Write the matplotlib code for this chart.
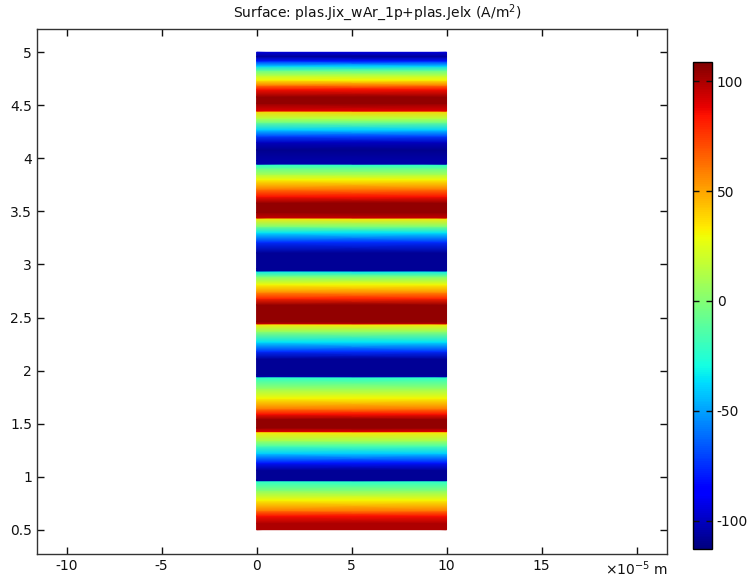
import numpy as np
import matplotlib
matplotlib.use("Agg")
import matplotlib.pyplot as plt

# Surface values read along y (values constant along x); pairs of close y mark the jumps
y_pos = [0.50, 0.56, 0.63, 0.68, 0.78, 0.87, 0.957, 0.963, 0.97, 1.06, 1.13, 1.22,
         1.29, 1.34, 1.419, 1.425, 1.46, 1.54, 1.59, 1.64, 1.74, 1.83, 1.937, 1.943,
         1.96, 2.11, 2.18, 2.27, 2.37, 2.436, 2.442, 2.46, 2.62, 2.68, 2.74, 2.81,
         2.89, 2.935, 2.941, 2.96, 3.11, 3.21, 3.30, 3.36, 3.434, 3.440, 3.49, 3.58,
         3.64, 3.71, 3.80, 3.85, 3.91, 3.942, 3.948, 3.98, 4.08, 4.15, 4.21, 4.27,
         4.34, 4.38, 4.442, 4.448, 4.52, 4.58, 4.65, 4.69, 4.74, 4.78, 4.83, 4.87,
         4.92, 4.96, 5.00]
j_val = [100, 100, 85, 60, 30, 0, -25, -108, -108, -108, -80, -40,
         -15, 10, 35, 90, 105, 105, 85, 60, 30, 5, -25, -105,
         -108, -108, -75, -35, 5, 35, 95, 105, 105, 80, 55, 30,
         -5, -35, -108, -108, -108, -75, -35, 0, 35, 95, 105, 105,
         85, 60, 30, 10, -10, -25, -105, -105, -110, -100, -70, -40,
         -5, 15, 40, 90, 105, 105, 85, 60, 30, 15, -10, -40,
         -80, -108, -95]
x_edges = [0, 10]  # x10^-5 m

cbar_ticks = [-100, -50, 0, 50, 100]
x_ticks = [-10, -5, 0, 5, 10, 15, 20]
x_ticklabels = ['-10', '-5', '0', '5', '10', '15', r'$\times$10$^{-5}$ m']
y_ticks = [0.5, 1, 1.5, 2, 2.5, 3, 3.5, 4, 4.5, 5]
y_ticklabels = ['0.5', '1', '1.5', '2', '2.5', '3', '3.5', '4', '4.5', '5']

plt.rcParams['font.family'] = ['DejaVu Sans']
plt.rcParams['axes.unicode_minus'] = False
plt.rcParams['mathtext.default'] = 'regular'

fig = plt.figure(figsize=(7.54, 5.79), dpi=100)
ax = fig.add_axes([0.049, 0.043, 0.835, 0.907])

X, Y = np.meshgrid(x_edges, y_pos)
C = np.column_stack([j_val, j_val])
mesh = ax.pcolormesh(X, Y, C, cmap='jet', vmin=-112.9, vmax=108.8, shading='gouraud')

ax.set_xlim(-11.56, 21.58)
ax.set_ylim(0.27, 5.22)
ax.set_xticks(x_ticks)
ax.set_xticklabels(x_ticklabels)
ax.set_yticks(y_ticks)
ax.set_yticklabels(y_ticklabels)
ax.tick_params(direction='in', top=True, right=True, length=5, width=1,
               labelsize=10, colors='#111111')
for s in ax.spines.values():
    s.set_linewidth(1)
    s.set_color('#333333')

fig.text(0.5, 0.978, r'Surface: plas.Jix_wAr_1p+plas.Jelx (A/m$^2$)',
         ha='center', va='center', fontsize=10, color='#111111')

cax = fig.add_axes([0.919, 0.052, 0.0252, 0.841])
cb = fig.colorbar(mesh, cax=cax, ticks=cbar_ticks)
cb.outline.set_linewidth(1)
cb.ax.tick_params(direction='in', left=True, right=True, length=4, width=1,
                  labelsize=10, colors='#111111')

fig.savefig('out.png', dpi=100)
